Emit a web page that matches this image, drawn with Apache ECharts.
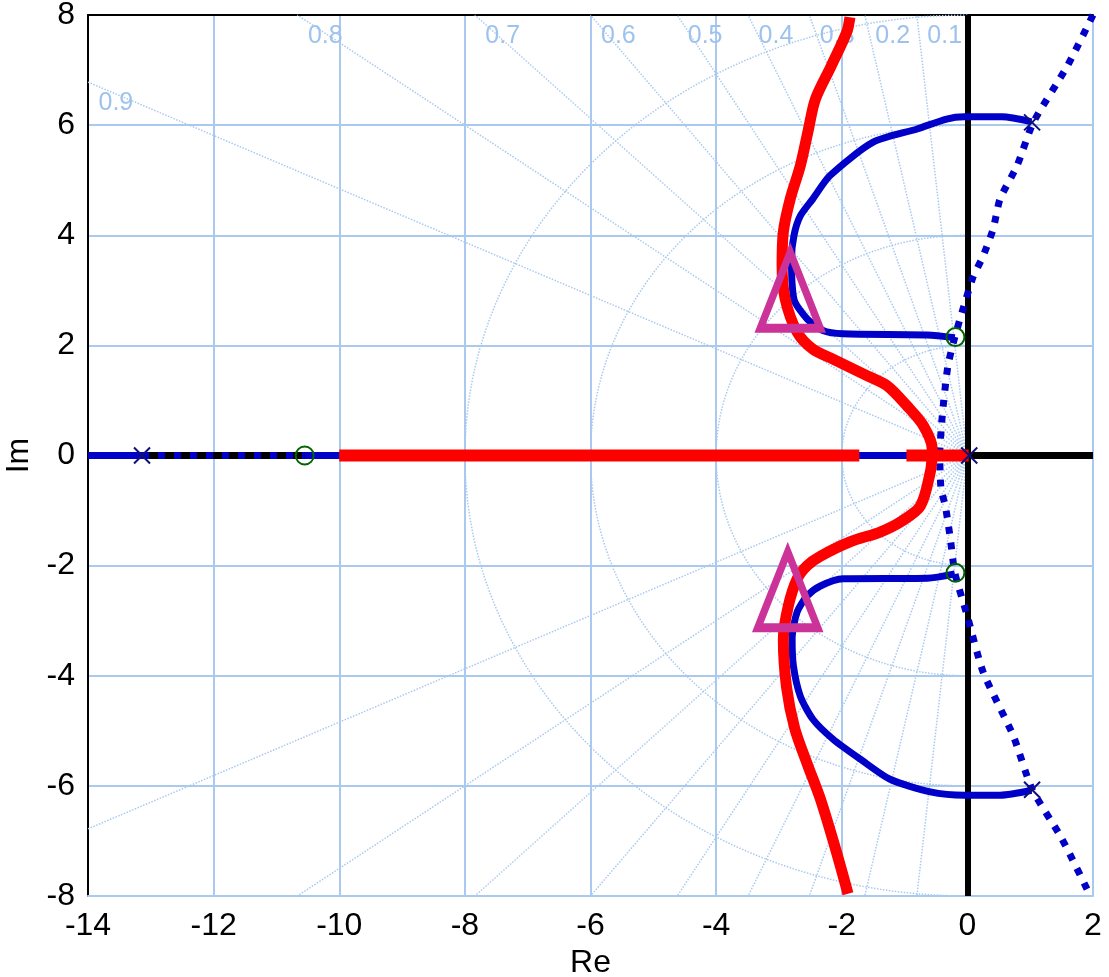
<!DOCTYPE html>
<html lang="en">
<head>
<meta charset="UTF-8">
<title>Root locus</title>
<script src="https://cdn.jsdelivr.net/npm/echarts@6/dist/echarts.min.js"></script>
<style>
  html, body { margin: 0; padding: 0; background: #fff; }
  #chart { width: 1109px; height: 977px; }
</style>
</head>
<body>
<div id="chart"></div>
<script>
// axis ranges and ticks
const xRange = [-14, 2];
const yRange = [-8, 8];
const tickStep = 2;

// s-plane grid: damping ratios and natural frequencies
const zetaLevels = [0.1, 0.2, 0.3, 0.4, 0.5, 0.6, 0.7, 0.8, 0.9];
const wnLevels = [2, 4, 6, 8];

// locus branches [Re, Im]
const blueUpper = [[1.02, 6.06], [0.55, 6.15], [-0.05, 6.15], [-0.33, 6.11], [-0.8, 5.93], [-1.5, 5.69],
  [-2.19, 5.08], [-2.46, 4.66], [-2.66, 4.35], [-2.76, 4.0], [-2.8, 3.57], [-2.79, 3.11], [-2.75, 2.8],
  [-2.55, 2.48], [-2.3, 2.27], [-1.98, 2.21], [-0.64, 2.19], [-0.2, 2.14]];
const blueLower = [[-0.2, -2.15], [-0.64, -2.23], [-1.98, -2.24], [-2.34, -2.37], [-2.55, -2.55],
  [-2.71, -2.84], [-2.79, -3.33], [-2.77, -3.82], [-2.66, -4.37], [-2.46, -4.79], [-2.14, -5.15],
  [-1.71, -5.51], [-1.23, -5.88], [-0.59, -6.11], [-0.04, -6.17], [0.52, -6.17], [1.02, -6.08]];
const blueDotted = [[2.0, 8.0], [1.59, 7.07], [1.05, 6.05], [0.79, 5.26], [0.52, 4.66], [0.41, 4.11],
  [0.25, 3.62], [0.09, 3.24], [-0.07, 2.66], [-0.2, 2.15], [-0.31, 1.63], [-0.4, 0.72], [-0.44, 0],
  [-0.42, -0.6], [-0.35, -0.92], [-0.27, -1.52], [-0.2, -2.13], [0.0, -2.92], [0.25, -3.93],
  [0.73, -5.09], [1.03, -6.06], [1.5, -6.95], [1.95, -7.98]];
const blueRealSolidA = [[-14, 0], [-13.14, 0]];
const blueRealDotted = [[-13.14, 0], [-10.55, 0]];
const blueRealSolidB = [[-10.55, 0], [0.0, 0]];

const redUpper = [[-1.87, 7.96], [-1.92, 7.69], [-2.17, 7.07], [-2.42, 6.47], [-2.54, 5.87], [-2.66, 5.26],
  [-2.82, 4.66], [-2.93, 4.06], [-2.95, 3.45], [-2.9, 2.84], [-2.71, 2.24], [-2.46, 1.93], [-2.14, 1.75],
  [-1.6, 1.45], [-1.28, 1.27], [-0.96, 0.9], [-0.7, 0.54], [-0.56, 0.12], [-0.56, 0]];
const redLower = [[-0.56, 0], [-0.59, -0.3], [-0.75, -0.92], [-1.07, -1.21], [-1.39, -1.39], [-1.87, -1.57],
  [-2.34, -1.83], [-2.55, -2.0], [-2.71, -2.24], [-2.85, -2.73], [-2.93, -3.33], [-2.88, -4.2],
  [-2.75, -4.95], [-2.55, -5.6], [-2.34, -6.24], [-2.1, -7.14], [-1.9, -7.96]];
const redRealA = [[-10, 0], [-1.72, 0]];
const redRealB = [[-0.97, 0], [0.02, 0]];

const poles = [[1.03, 6.05], [1.03, -6.07], [-13.14, 0], [0.03, 0]];
const zeros = [[-0.19, 2.15], [-0.19, -2.13], [-10.55, 0]];
const marks = [[-2.82, 3.0], [-2.86, -2.44]];

const GRID_BLUE = '#a9c9ee';
const BLUE = '#0000c8';
const RED = '#ff0000';
const FONT = '"Liberation Sans", Arial, sans-serif';

function seg(data, color, width, z, type, smooth) {
  return {
    type: 'line', data: data, symbol: 'none', showSymbol: false, silent: true, z: z, smooth: smooth || false,
    lineStyle: { color: color, width: width, type: type || 'solid', cap: 'butt', join: 'round' }
  };
}

// exit point of a damping line on the plot border (upper half)
function zetaEnd(z) {
  const s = Math.sqrt(1 - z * z);
  const t = Math.min(yRange[1] / s, -xRange[0] / z);
  return [-t * z, t * s];
}

const series = [];

zetaLevels.forEach(function (z) {
  const e = zetaEnd(z);
  series.push(seg([[0, 0], e], GRID_BLUE, 1.5, 1, 'dotted'));
  series.push(seg([[0, 0], [e[0], -e[1]]], GRID_BLUE, 1.5, 1, 'dotted'));
});
wnLevels.forEach(function (r) {
  const pts = [];
  for (let a = 90; a <= 270; a += 2) {
    pts.push([r * Math.cos(a * Math.PI / 180), r * Math.sin(a * Math.PI / 180)]);
  }
  series.push(seg(pts, GRID_BLUE, 1.5, 1, 'dotted'));
});

// damping ratio labels
series.push({
  type: 'scatter', z: 1, silent: true, clip: false, symbolSize: 1,
  itemStyle: { color: 'rgba(0,0,0,0)', opacity: 1 },
  data: zetaLevels.map(function (z) { return { value: zetaEnd(z), name: String(z) }; }),
  label: {
    show: true, formatter: '{b}', position: 'right', distance: 10, offset: [0, 21],
    color: '#9ec2ee', fontSize: 25, fontFamily: FONT
  }
});

// real and imaginary axes
series.push({
  type: 'line', data: [], z: 2, silent: true,
  markLine: {
    z: 2, silent: true, symbol: 'none', animation: false, label: { show: false },
    data: [
      { yAxis: 0, lineStyle: { color: '#000', width: 7, type: 'solid' } },
      { xAxis: 0, lineStyle: { color: '#000', width: 6, type: 'solid' } }
    ]
  }
});

series.push(seg(blueRealSolidA, BLUE, 7, 3));
series.push(seg(blueRealSolidB, BLUE, 7, 3));
series.push(seg(blueRealDotted, BLUE, 7, 3, [7, 9]));
series.push(seg(blueDotted, BLUE, 7, 3, [7, 9], 0.2));
series.push(seg(blueUpper, BLUE, 7, 3, 'solid', 0.25));
series.push(seg(blueLower, BLUE, 7, 3, 'solid', 0.25));

series.push(seg(redRealA, RED, 12, 4));
series.push(seg(redRealB, RED, 12, 4));
series.push(seg(redUpper, RED, 11, 4, 'solid', 0.3));
series.push(seg(redLower, RED, 11, 4, 'solid', 0.3));

series.push({
  type: 'scatter', z: 5, silent: true, data: zeros, symbol: 'circle', symbolSize: 18,
  itemStyle: { color: 'none', borderColor: '#006400', borderWidth: 2, opacity: 1 }
});
series.push({
  type: 'scatter', z: 5, silent: true, data: poles, symbol: 'path://M0,0L10,10M10,0L0,10', symbolSize: 16,
  itemStyle: { color: 'none', borderColor: '#10107a', borderWidth: 2, opacity: 1 }
});
series.push({
  type: 'scatter', z: 6, silent: true, data: marks, symbol: 'triangle', symbolSize: [60, 76],
  itemStyle: { color: 'none', borderColor: '#cc3399', borderWidth: 8, opacity: 1 }
});

const chart = echarts.init(document.getElementById('chart'));
chart.setOption({
  animation: false,
  backgroundColor: '#fff',
  grid: { left: 88, top: 15, width: 1005, height: 881, containLabel: false, outerBoundsMode: 'none' },
  xAxis: [{
    type: 'value', min: xRange[0], max: xRange[1], interval: tickStep, position: 'bottom',
    axisLine: { show: true, onZero: false, lineStyle: { color: GRID_BLUE, width: 2 } },
    axisTick: { show: false },
    axisLabel: { color: '#000', fontSize: 32, fontFamily: FONT, margin: 14 },
    splitLine: { show: true, lineStyle: { color: GRID_BLUE, width: 2 } },
    name: 'Re', nameLocation: 'middle', nameGap: 46,
    nameTextStyle: { color: '#000', fontSize: 32, fontFamily: FONT }
  }, {
    type: 'value', min: xRange[0], max: xRange[1], interval: tickStep, position: 'top',
    axisLine: { show: true, onZero: false, lineStyle: { color: '#000', width: 2 } },
    axisTick: { show: false }, axisLabel: { show: false }, splitLine: { show: false }
  }],
  yAxis: [{
    type: 'value', min: yRange[0], max: yRange[1], interval: tickStep,
    axisLine: { show: true, onZero: false, lineStyle: { color: '#000', width: 2 } },
    axisTick: { show: false },
    axisLabel: { color: '#000', fontSize: 32, fontFamily: FONT, margin: 13 },
    splitLine: { show: true, lineStyle: { color: GRID_BLUE, width: 2 } },
    name: 'Im', nameLocation: 'middle', nameGap: 44,
    nameTextStyle: { color: '#000', fontSize: 32, fontFamily: FONT }
  }],
  series: series
});
</script>
</body>
</html>
